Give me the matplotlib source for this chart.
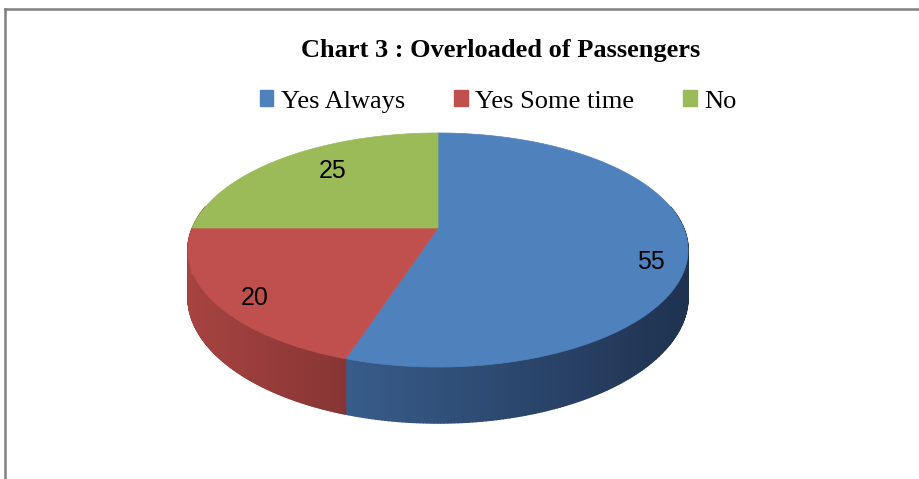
import numpy as np
import matplotlib
matplotlib.use("Agg")
import matplotlib.pyplot as plt
from matplotlib.patches import Polygon, Patch
from matplotlib.lines import Line2D
from matplotlib.colors import to_rgb

# dados do gráfico
categorias = ["Yes Always", "Yes Some time", "No"]
valores = [55, 20, 25]
cores_topo = ["#4f81bd", "#c0504d", "#9bbb59"]
cores_lado_claro = ["#385c8a", "#a64441", "#7f9a48"]
cores_lado_escuro = ["#1f3250", "#873534", "#5e7234"]
titulo = "Chart 3 : Overloaded of Passengers"

# geometria do "pie 3D" (pixels da figura)
cx, cy = 438, 228
R, Rb = 245.6, 112.9
k = 0.188      # perspectiva
H = 45.5       # espessura


def proj(t, z=0.0, r=1.0):
    u, v = r * np.cos(t), r * np.sin(t)
    w = 1 + k * v
    return cx + R * u / w, cy - Rb * v / w + H * z / w


def mistura(c1, c2, f):
    a, b = np.array(to_rgb(c1)), np.array(to_rgb(c2))
    return a + (b - a) * f


def main():
    fig = plt.figure(figsize=(9.19, 4.79), dpi=100)
    ax = fig.add_axes([0, 0, 1, 1])
    ax.set_xlim(0, 919)
    ax.set_ylim(479, 0)
    ax.axis("off")

    total = sum(valores)
    inicio = np.pi / 2
    fatias = []
    for v in valores:
        fim = inicio - 2 * np.pi * v / total
        fatias.append((inicio, fim))
        inicio = fim

    # laterais (só a parte da frente), com degradê da esquerda p/ direita
    for i, (a0, a1) in enumerate(fatias):
        ts = np.linspace(a0, a1, 300)
        ts = ts[np.sin(ts) < 0.2]
        if len(ts) < 2:
            continue
        xs = [proj(t)[0] for t in ts]
        xmin, xmax = min(xs), max(xs)
        for j in range(len(ts) - 1):
            p1, p2 = proj(ts[j]), proj(ts[j + 1])
            q2, q1 = proj(ts[j + 1], 1), proj(ts[j], 1)
            f = ((p1[0] + p2[0]) / 2 - xmin) / max(xmax - xmin, 1)
            c = mistura(cores_lado_claro[i], cores_lado_escuro[i], f)
            ax.add_patch(Polygon([p1, p2, q2, q1], closed=True,
                                 facecolor=c, edgecolor=c, lw=1.0))

    # topo
    for i, (a0, a1) in enumerate(fatias):
        ts = np.linspace(a0, a1, 200)
        pts = [(cx, cy)] + [proj(t) for t in ts]
        ax.add_patch(Polygon(pts, closed=True, facecolor=cores_topo[i],
                             edgecolor=cores_topo[i], lw=0.5))

    # rótulos dos valores
    raio_rot = [0.87, 0.87, 0.73]
    desvio_rot = np.radians([-10, 3.6, -4.5])
    for i, (a0, a1) in enumerate(fatias):
        m = (a0 + a1) / 2 + desvio_rot[i]
        x, y = proj(m, 0, raio_rot[i])
        ax.text(x, y, str(valores[i]), ha="center", va="center",
                fontsize=18, family=["Liberation Sans Narrow", "Liberation Sans"],
                color="black")

    # título e legenda
    fig.text(0.545, 0.895, titulo, ha="center", va="center",
             fontsize=19, fontweight="bold", family="Liberation Serif")
    handles = [Patch(facecolor=c, edgecolor=c) for c in cores_topo]
    fig.legend(handles, categorias, loc="center", bbox_to_anchor=(0.5425, 0.788),
               ncol=3, frameon=False, handlelength=0.5, handleheight=0.55,
               handletextpad=0.3, columnspacing=1.85,
               prop={"family": "Liberation Serif", "size": 19})

    # moldura
    fig.add_artist(Line2D([5 / 919, 1], [1 - 9 / 479, 1 - 9 / 479],
                          color="#808080", lw=1.8, transform=fig.transFigure))
    fig.add_artist(Line2D([5 / 919, 5 / 919], [0, 1 - 9 / 479],
                          color="#808080", lw=1.8, transform=fig.transFigure))

    fig.savefig("out.png", dpi=100)


if __name__ == "__main__":
    main()
